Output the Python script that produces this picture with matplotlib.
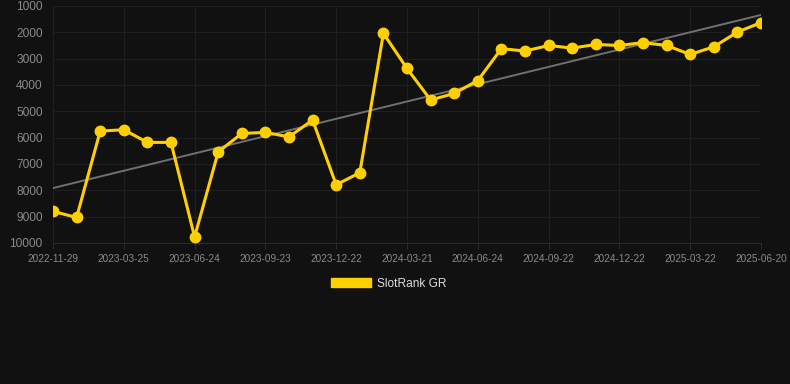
import matplotlib
matplotlib.use("Agg")
import matplotlib.pyplot as plt
from matplotlib.patches import Patch
import numpy as np

dates = ["2022-11-29", "2022-12-29", "2023-01-28", "2023-03-25", "2023-04-24", "2023-05-24",
         "2023-06-24", "2023-07-24", "2023-08-23", "2023-09-23", "2023-10-23", "2023-11-22",
         "2023-12-22", "2024-01-21", "2024-02-20", "2024-03-21", "2024-04-20", "2024-05-20",
         "2024-06-24", "2024-07-24", "2024-08-23", "2024-09-22", "2024-10-22", "2024-11-21",
         "2024-12-22", "2025-01-21", "2025-02-20", "2025-03-22", "2025-04-21", "2025-05-21",
         "2025-06-20"]
rank = [8800, 9030, 5750, 5700, 6180, 6180, 9770, 6540, 5840, 5800, 5970, 5330,
        7790, 7330, 2040, 3370, 4570, 4320, 3830, 2620, 2710, 2500, 2600, 2460,
        2500, 2390, 2500, 2840, 2550, 1990, 1630]
series_name = "SlotRank GR"
yticks = [1000, 2000, 3000, 4000, 5000, 6000, 7000, 8000, 9000, 10000]

BG = "#111111"
YELLOW = "#FFD000"
GRID = "#1f1f1f"

plt.rcParams['font.family'] = ['Liberation Sans', 'DejaVu Sans']
fig = plt.figure(figsize=(7.9, 3.84), dpi=100, facecolor=BG)
W, H = 790, 384
left, right, top, bottom = 53, 761, 6, 243
ax = fig.add_axes([left / W, 1 - bottom / H, (right - left) / W, (bottom - top) / H])
ax.set_facecolor(BG)

x = np.arange(len(rank))
coef = np.polyfit(x, rank, 1)
trend = np.polyval(coef, x)
ax.plot(x, trend, color="#707070", lw=1.4, zorder=2)
ax.plot(x, rank, color=YELLOW, lw=2.2, marker="o", markersize=7.5,
        markerfacecolor=YELLOW, markeredgecolor=YELLOW, zorder=3)

ax.set_xlim(0, len(rank) - 1)
ax.set_ylim(10000, 1000)
ax.set_yticks(yticks)
ax.set_yticklabels([str(v) for v in yticks])
tick_idx = list(range(0, len(dates), 3))
ax.set_xticks(tick_idx)
ax.set_xticklabels([dates[i] for i in tick_idx])

ax.grid(True, color=GRID, lw=0.75)
for s in ax.spines.values():
    s.set_visible(False)
ax.spines["bottom"].set_visible(True)
ax.spines["bottom"].set_color("#2a2a2a")
ax.spines["bottom"].set_linewidth(0.8)
ax.tick_params(axis="y", length=0, labelsize=8.6, labelcolor="#8a8a8a", pad=7.5)
ax.tick_params(axis="x", colors="#2a2a2a", length=4, width=0.75, labelsize=7.2, labelcolor="#8a8a8a", pad=4)

handle = Patch(facecolor=YELLOW, edgecolor=YELLOW)
leg = fig.legend([handle], [series_name], loc="center", bbox_to_anchor=(0.492, 1 - 284 / H),
                 frameon=False, fontsize=8.6, handlelength=3.3, handleheight=0.8,
                 handletextpad=0.5, labelcolor="#dddddd")

fig.savefig("out.png", dpi=100, facecolor=BG)
